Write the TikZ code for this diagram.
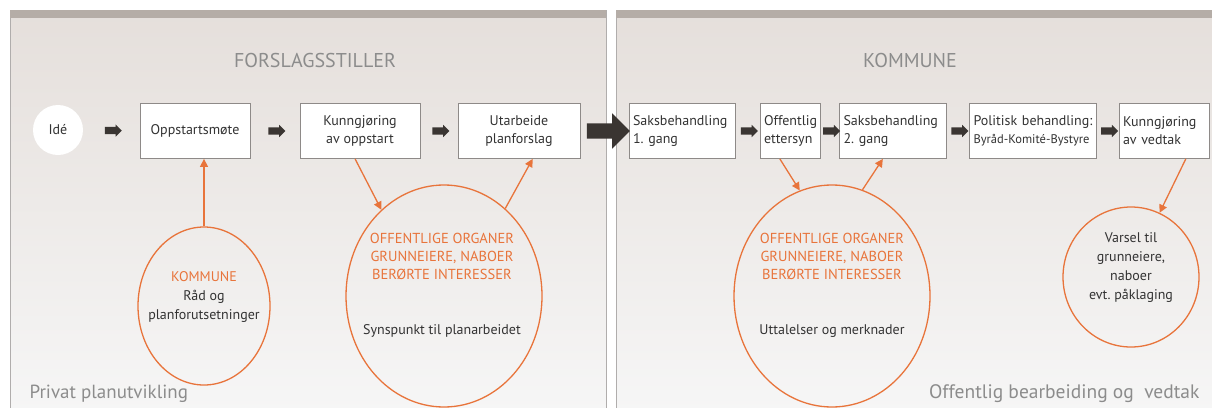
\documentclass[tikz,border=0pt]{standalone}
\usepackage{fontspec}
\setmainfont{PT Sans}
\usetikzlibrary{shapes.geometric,shapes.arrows,arrows.meta,calc}

\definecolor{orangeline}{HTML}{E8743B}
\definecolor{arrowdark}{HTML}{3A3532}
\definecolor{textdark}{HTML}{333333}
\definecolor{titlegray}{HTML}{8C8C8C}
\definecolor{boxgray}{HTML}{8E8A88}
\definecolor{bandgray}{HTML}{B5ADA7}
\definecolor{panelTop}{HTML}{E5DFDB}
\definecolor{panelMid}{HTML}{F1EFEE}
\definecolor{panelBot}{HTML}{F6F6F6}

\begin{document}
\frenchspacing
\begin{tikzpicture}[x=1pt,y=-1pt,
  box/.style={rectangle,draw=boxgray,fill=white,line width=0.8pt,minimum height=55pt,inner sep=4pt,
    font=\fontsize{14}{18}\selectfont,text=textdark},
  blk/.style={single arrow,fill=arrowdark,inner sep=3.5pt,minimum height=17pt,single arrow head extend=2.5pt},
  ring/.style={ellipse,draw=orangeline,line width=1.3pt,inner sep=0pt},
  feed/.style={draw=orangeline,line width=1.3pt,-{Triangle[length=8pt,width=8pt]}},
  note/.style={align=center,font=\fontsize{14}{19}\selectfont,text=textdark},
  hot/.style={align=center,font=\fontsize{14.5}{18}\selectfont,text=orangeline},
  title/.style={font=\fontsize{19}{22}\selectfont,text=titlegray}
]
\useasboundingbox (0,0) rectangle (1212,407);

% the two panels
\shade[top color=panelTop,middle color=panelMid,bottom color=panelBot] (10,10) rectangle (606,412);
\shade[top color=panelTop,middle color=panelMid,bottom color=panelBot] (616,10) rectangle (1220,412);
\draw[boxgray!70,line width=0.8pt] (10,412) -- (10,10) -- (606,10) -- (606,412);
\draw[boxgray!70,line width=0.8pt] (616,412) -- (616,10) -- (1220,10);
\fill[bandgray] (10,10) rectangle (606,18);
\fill[bandgray] (616,10) rectangle (1220,18);

\node[title,font=\fontsize{20}{22}\selectfont] (forsl) at (315,60) {FORSLAGSSTILLER};
\node[title,font=\fontsize{20}{22}\selectfont] (komm) at (910,60) {KOMMUNE};
\node[title,anchor=base west] (privat) at (26,398) {Privat planutvikling};
\node[title,anchor=base east,font=\fontsize{19.5}{22}\selectfont] (offentlig) at (1203,398) {Offentlig bearbeiding og\ \ vedtak};

% process row
\node[circle,fill=white,minimum size=50pt,inner sep=0pt,font=\fontsize{14}{18}\selectfont,text=textdark] (ide) at (58,130) {Idé};
\node[box,minimum width=110pt] (opp) at (195,131) {Oppstartsmøte};
\node[box,minimum width=120pt,align=center] (kun) at (360,131) {Kunngjøring\\av oppstart};
\node[box,minimum width=122pt,align=center] (utarb) at (519,131) {Utarbeide\\planforslag};
\node[box,minimum width=106pt,text width=98pt,align=left] (sak1) at (682,131) {Saksbehandling\\1. gang};
\node[box,minimum width=60pt,text width=52pt,align=left] (etter) at (790,131) {Offentlig\\ettersyn};
\node[box,minimum width=107pt,text width=99pt,align=left] (sak2) at (893,131) {Saksbehandling\\2. gang};
\node[box,minimum width=127pt,text width=119pt,align=left] (pol) at (1033,131) {Politisk behandling:\\{\fontsize{12.5}{16}\selectfont Byråd-Komité-Bystyre}};
\node[box,minimum width=90pt,text width=82pt,align=left] (ved) at (1164,131) {Kunngjøring\\av vedtak};

\foreach \a/\b in {ide/opp,opp/kun,kun/utarb,sak1/etter,etter/sak2,sak2/pol,pol/ved}
  \node[blk] (arr-\a) at ($(\a.east)!0.5!(\b.west)$) {};
\node[blk,inner sep=7.5pt,minimum height=43pt,single arrow head extend=10pt] (arr-big) at ($(utarb.east)!0.5!(sak1.west)$) {};

% feedback circles
\node[ring,minimum width=132pt,minimum height=158pt] (kring) at (204,306) {};
\node[note] (ktxt) at (204,297) {\textcolor{orangeline}{KOMMUNE}\\Råd og\\planforutsetninger};

\node[ring,minimum width=196pt,minimum height=222pt] (off1) at (444,296) {};
\node[hot] (off1h) at (442,256) {OFFENTLIGE ORGANER\\GRUNNEIERE, NABOER\\BERØRTE INTERESSER};
\node[note] (off1t) at (442,331) {Synspunkt til planarbeidet};

\node[ring,minimum width=196pt,minimum height=222pt] (off2) at (832,296) {};
\node[hot] (off2h) at (832,256) {OFFENTLIGE ORGANER\\GRUNNEIERE, NABOER\\BERØRTE INTERESSER};
\node[note] (off2t) at (832,331) {Uttalelser og merknader};

\node[ring,minimum width=136pt,minimum height=140pt] (var) at (1131,277) {};
\node[note] (vtxt) at (1131,268) {Varsel til\\grunneiere,\\naboer\\evt. påklaging};

\draw[feed] (kring.north) -- (kring.north |- opp.south);
\draw[feed] (kun.-100) -- (off1.126);
\draw[feed] (off1.55) -- (utarb.-64);
\draw[feed] (etter.-110) -- (off2.107);
\draw[feed] (off2.74) -- (sak2.-110);
\draw[feed] (ved.-52) -- (var.66);

\end{tikzpicture}
\end{document}
